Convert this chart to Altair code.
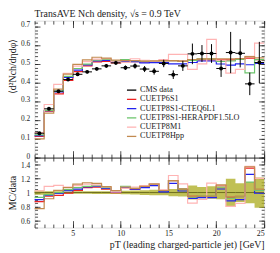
import altair as alt
import pandas as pd

# ---------------- data ----------------
bin_lo = [1, 2, 3, 4, 5, 6, 7, 8, 9, 10, 11, 12, 13, 14, 15, 16, 17, 18, 19, 20, 21, 22, 23, 24]
bin_hi = [2, 3, 4, 5, 6, 7, 8, 9, 10, 11, 12, 13, 14, 15, 16, 17, 18, 19, 20, 21, 22, 23, 24, 25]

data_val = [0.130, 0.260, 0.354, 0.416, 0.444, 0.457, 0.473, 0.489, 0.505, 0.479, 0.488, 0.472,
            0.460, 0.502, 0.442, 0.489, 0.553, 0.555, 0.555, 0.475, 0.560, 0.556, 0.393, 0.507]
data_err = [0.004, 0.005, 0.006, 0.007, 0.008, 0.008, 0.009, 0.010, 0.011, 0.012, 0.014, 0.016,
            0.018, 0.020, 0.023, 0.027, 0.055, 0.045, 0.050, 0.045, 0.110, 0.075, 0.060, 0.110]

tunes = ["CUETP6S1", "CUETP8S1-CTEQ6L1", "CUETP8S1-HERAPDF1.5LO", "CUETP8M1", "CUETP8Hpp"]
mc_p6s1 = [0.113, 0.247, 0.340, 0.412, 0.458, 0.489, 0.510, 0.513, 0.505, 0.512, 0.512, 0.510,
           0.515, 0.517, 0.517, 0.514, 0.523, 0.521, 0.521, 0.522, 0.521, 0.523, 0.530, 0.522]
mc_cteq = [0.117, 0.250, 0.350, 0.428, 0.466, 0.494, 0.516, 0.518, 0.510, 0.512, 0.512, 0.505,
           0.506, 0.507, 0.500, 0.500, 0.507, 0.515, 0.515, 0.499, 0.493, 0.500, 0.495, 0.502]
mc_hera = [0.121, 0.252, 0.354, 0.433, 0.475, 0.498, 0.520, 0.523, 0.515, 0.522, 0.517, 0.514,
           0.515, 0.517, 0.517, 0.513, 0.518, 0.526, 0.526, 0.513, 0.515, 0.523, 0.452, 0.522]
mc_m1 = [0.133, 0.283, 0.390, 0.449, 0.488, 0.512, 0.525, 0.528, 0.510, 0.508, 0.527, 0.519,
         0.515, 0.522, 0.550, 0.550, 0.470, 0.500, 0.630, 0.520, 0.450, 0.470, 0.540, 0.610]
mc_hpp = [0.100, 0.237, 0.365, 0.445, 0.497, 0.521, 0.535, 0.530, 0.520, 0.517, 0.517, 0.514,
          0.515, 0.517, 0.517, 0.513, 0.523, 0.526, 0.526, 0.527, 0.526, 0.528, 0.538, 0.532]
mc_vals = [mc_p6s1, mc_cteq, mc_hera, mc_m1, mc_hpp]

series_names = ["CMS data"] + tunes
series_colors = ["#000000", "#ee2222", "#2222ee", "#6cc46c", "#ffb4b4", "#c28a50"]

x_major = [5, 10, 15, 20, 25]
x_minor = [1, 2, 3, 4, 5, 6, 7, 8, 9, 10, 11, 12, 13, 14, 15, 16, 17, 18, 19, 20, 21, 22, 23, 24, 25]
yu_major = [0, 0.1, 0.2, 0.3, 0.4, 0.5, 0.6, 0.7]
yu_minor = [0, 0.02, 0.04, 0.06, 0.08, 0.1, 0.12, 0.14, 0.16, 0.18, 0.2, 0.22, 0.24, 0.26, 0.28,
            0.3, 0.32, 0.34, 0.36, 0.38, 0.4, 0.42, 0.44, 0.46, 0.48, 0.5, 0.52, 0.54, 0.56,
            0.58, 0.6, 0.62, 0.64, 0.66, 0.68, 0.7, 0.72]
yl_major = [0.6, 0.8, 1.0, 1.2, 1.4]
yl_minor = [0.5, 0.55, 0.6, 0.65, 0.7, 0.75, 0.8, 0.85, 0.9, 0.95, 1.0, 1.05, 1.1, 1.15, 1.2,
            1.25, 1.3, 1.35, 1.4, 1.45, 1.5]

# ---------------- tables ----------------
data_df = pd.DataFrame({
    "lo": bin_lo, "hi": bin_hi,
    "x": [(a + b) / 2 for a, b in zip(bin_lo, bin_hi)],
    "y": data_val, "err": data_err, "series": "CMS data",
})
data_df["ylo"] = data_df["y"] - data_df["err"]
data_df["yhi"] = data_df["y"] + data_df["err"]

rows = []
for name, vals in zip(tunes, mc_vals):
    for i, v in enumerate(vals):
        rows.append({"series": name, "x": bin_lo[i], "y": v, "ratio": v / data_val[i], "k": i})
    rows.append({"series": name, "x": bin_hi[-1], "y": vals[-1],
                 "ratio": vals[-1] / data_val[-1], "k": len(vals)})
mc_df = pd.DataFrame(rows)

band_rows = []
for i in range(len(bin_lo)):
    band_rows.append({"x": bin_lo[i], "blo": 1 - data_err[i] / data_val[i],
                      "bhi": 1 + data_err[i] / data_val[i]})
band_rows.append({"x": bin_hi[-1], "blo": band_rows[-1]["blo"], "bhi": band_rows[-1]["bhi"]})
band_df = pd.DataFrame(band_rows)

# ---------------- layout ----------------
W, H, HT = 233, 210, 139
FONT = "Liberation Serif"
TC = "#222222"

xs = alt.Scale(domain=[1, 25], nice=False, zero=False)
ys_top = alt.Scale(domain=[0, 0.73], range=[HT, 0], nice=False, zero=False)
ys_bot = alt.Scale(domain=[0.5, 1.5], range=[H, HT], nice=False, zero=False)
cs = alt.Scale(domain=series_names, range=series_colors)

LEG = alt.Legend(orient="none", legendX=93, legendY=65, padding=0, title=None,
                 symbolType="stroke", symbolSize=90, symbolStrokeWidth=1.3,
                 labelFont=FONT, labelFontSize=8.3, labelColor=TC, labelOffset=3,
                 rowPadding=0.4)
COL = alt.Color("series:N", scale=cs, legend=LEG)

X0 = alt.X("x:Q", scale=xs, axis=None)

layers = []

# upper panel MC curves
layers.append(alt.Chart(mc_df).mark_line(interpolate="step-after", strokeWidth=1.2).encode(
    x=X0, y=alt.Y("y:Q", scale=ys_top, axis=None), color=COL, order="k:Q"))

# data: error bars + points
layers.append(alt.Chart(data_df).mark_rule(color="black", strokeWidth=1).encode(
    x=alt.X("lo:Q", scale=xs, axis=None), x2="hi:Q", y=alt.Y("y:Q", scale=ys_top, axis=None)))
layers.append(alt.Chart(data_df).mark_rule(color="black", strokeWidth=1).encode(
    x=X0, y=alt.Y("ylo:Q", scale=ys_top, axis=None), y2="yhi:Q"))
layers.append(alt.Chart(data_df).mark_circle(size=16, opacity=1).encode(
    x=X0, y=alt.Y("y:Q", scale=ys_top, axis=None), color=COL))

# lower panel: data band, unity line, ratios
layers.append(alt.Chart(band_df).mark_area(interpolate="step-after", color="#b0b02a", opacity=0.8).encode(
    x=X0, y=alt.Y("blo:Q", scale=ys_bot, axis=None), y2="bhi:Q"))
layers.append(alt.Chart(band_df).mark_line(color="#6e6e1e", strokeWidth=1).encode(
    x=X0, y=alt.YDatum(1, scale=ys_bot, axis=None)))
layers.append(alt.Chart(mc_df).mark_line(interpolate="step-after", strokeWidth=1.2).encode(
    x=X0, y=alt.Y("ratio:Q", scale=ys_bot, axis=None), color=COL, order="k:Q"))

# ---------------- axes ----------------
tick_style = dict(labels=False, domain=False, grid=False, tickColor=TC, tickWidth=0.8, title=None)


def xaxis_layer(values, **kw):
    return alt.Chart(pd.DataFrame({"v": values})).mark_point(opacity=0).encode(
        x=alt.X("v:Q", scale=xs, axis=alt.Axis(values=values, **kw)))


def yaxis_layer(scale, values, **kw):
    return alt.Chart(pd.DataFrame({"v": values})).mark_point(opacity=0).encode(
        y=alt.Y("v:Q", scale=scale, axis=alt.Axis(values=values, **kw)))


# x labels + title
layers.append(xaxis_layer(x_major, orient="bottom", ticks=False, tickSize=0, domain=False, grid=False,
                          labelFont=FONT, labelFontSize=8, labelColor=TC, labelPadding=2,
                          title="pT (leading charged-particle jet) [GeV]", titleFont=FONT,
                          titleFontSize=10, titleFontWeight="normal", titleColor=TC,
                          titleAnchor="end", titleAlign="right", titleX=W, titleY=12,
                          titleBaseline="top"))
# x tick rows
for orient, off in [("top", -H), ("top", -HT), ("bottom", -(H - HT)), ("bottom", -H)]:
    layers.append(xaxis_layer(x_minor, orient=orient, offset=off, tickSize=3.5, **tick_style))
    layers.append(xaxis_layer(x_major, orient=orient, offset=off, tickSize=7, **tick_style))
# divider line between panels
layers.append(xaxis_layer(x_major, orient="bottom", offset=-(H - HT), ticks=False, labels=False,
                          grid=False, domain=True, domainColor=TC, domainWidth=1, title=None))

# upper y axis labels + title
layers.append(yaxis_layer(ys_top, yu_major, orient="left", ticks=False, tickSize=0, domain=False,
                          grid=False, format="~g", labelFont=FONT, labelFontSize=7.5, labelColor=TC,
                          labelPadding=5, labelOffset=-1.5,
                          title="⟨d²Nch/dηdφ⟩", titleFont=FONT, titleFontSize=10,
                          titleFontWeight="normal", titleColor=TC, titleX=-17, titleY=46))
for orient, off in [("right", -W), ("left", -W)]:
    layers.append(yaxis_layer(ys_top, yu_minor, orient=orient, offset=off, tickSize=3, **tick_style))
    layers.append(yaxis_layer(ys_top, yu_major, orient=orient, offset=off, tickSize=5.5, **tick_style))

# lower y axis labels + title
layers.append(yaxis_layer(ys_bot, yl_major, orient="left", ticks=False, tickSize=0, domain=False,
                          grid=False, format="~g", labelFont=FONT, labelFontSize=7.5, labelColor=TC,
                          labelPadding=5, labelOffset=1,
                          title="MC/data", titleFont=FONT, titleFontSize=10,
                          titleFontWeight="normal", titleColor=TC, titleX=-17))
for orient, off in [("right", -W), ("left", -W)]:
    layers.append(yaxis_layer(ys_bot, yl_minor, orient=orient, offset=off, tickSize=3, **tick_style))
    layers.append(yaxis_layer(ys_bot, yl_major, orient=orient, offset=off, tickSize=5.5, **tick_style))

chart = alt.layer(*layers).resolve_scale(y="independent").resolve_axis(
    x="independent", y="independent"
).properties(
    width=W, height=H,
    autosize=alt.AutoSizeParams(type="none"),
    padding={"left": 27, "top": 11, "right": 8, "bottom": 24},
    title=alt.TitleParams("TransAVE Nch density, √s = 0.9 TeV", anchor="start", frame="group",
                          orient="top", font=FONT, fontSize=10, fontWeight="normal", color=TC,
                          baseline="alphabetic", offset=4, dy=11),
).configure_view(stroke=TC, strokeWidth=1).configure(background="white")

chart.save("out.html", embed_options={"renderer": "svg", "actions": False})
